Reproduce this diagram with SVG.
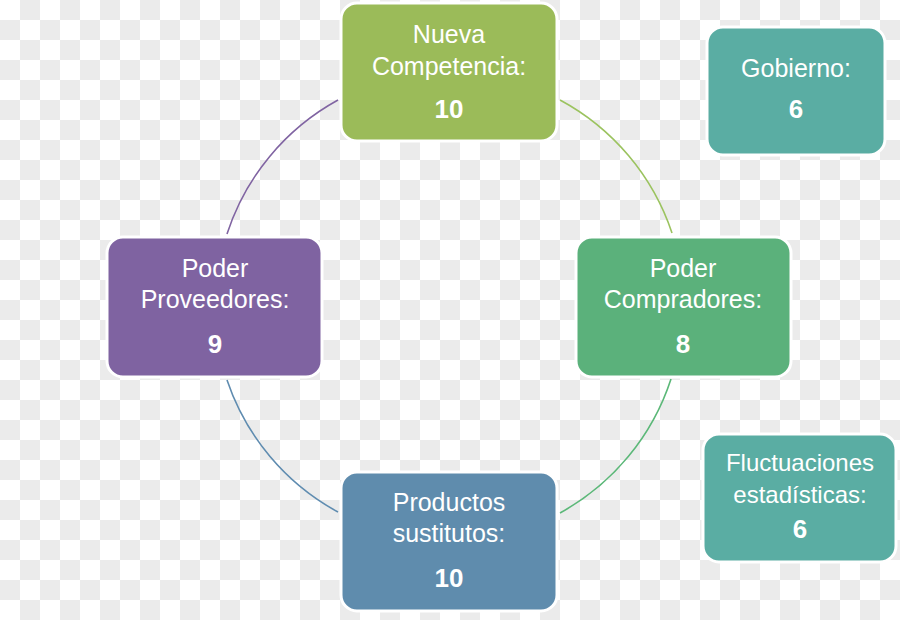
<svg xmlns="http://www.w3.org/2000/svg" width="900" height="620" viewBox="0 0 900 620">
<defs>
<pattern id="checker" x="0" y="0" width="40" height="40" patternUnits="userSpaceOnUse">
<rect width="40" height="40" fill="#ffffff"/>
<rect x="20" y="0" width="20" height="20" fill="#ebebeb"/>
<rect x="0" y="20" width="20" height="20" fill="#ebebeb"/>
</pattern>
<style>
.box{stroke:#ffffff;stroke-width:3}
.lbl{font-family:"Liberation Sans",Arial,sans-serif;font-size:25px;fill:#ffffff;text-anchor:middle}
.num{font-family:"Liberation Sans",Arial,sans-serif;font-size:26px;font-weight:bold;fill:#ffffff;text-anchor:middle}
.arc{fill:none;stroke-width:1.6}
</style>
</defs>
<rect width="900" height="620" fill="url(#checker)"/>
<g id="connectors">
<path class="arc" stroke="#9bc35f" d="M560,100 A236,236 0 0 1 672,233"/>
<path class="arc" stroke="#5bb878" d="M671,379 A236,236 0 0 1 560,513"/>
<path class="arc" stroke="#5f8cb0" d="M338,512 A236,236 0 0 1 227,380"/>
<path class="arc" stroke="#8064a2" d="M227,234 A236,236 0 0 1 338,100"/>
</g>
<g id="nueva-competencia">
<rect class="box" x="341" y="3" width="216" height="138" rx="16" fill="#9bbb59"/>
<text class="lbl" x="449" y="43">Nueva</text>
<text class="lbl" x="449" y="75">Competencia:</text>
<text class="num" x="449" y="118">10</text>
</g>
<g id="gobierno">
<rect class="box" x="707" y="27" width="178" height="128" rx="16" fill="#5aada3"/>
<text class="lbl" x="796" y="77">Gobierno:</text>
<text class="num" x="796" y="118">6</text>
</g>
<g id="poder-compradores">
<rect class="box" x="576" y="237" width="215" height="140" rx="16" fill="#5bb17b"/>
<text class="lbl" x="683" y="277">Poder</text>
<text class="lbl" x="683" y="308">Compradores:</text>
<text class="num" x="683" y="353">8</text>
</g>
<g id="poder-proveedores">
<rect class="box" x="107" y="237" width="215" height="140" rx="16" fill="#7f63a1"/>
<text class="lbl" x="215" y="277">Poder</text>
<text class="lbl" x="215" y="308">Proveedores:</text>
<text class="num" x="215" y="353">9</text>
</g>
<g id="productos-sustitutos">
<rect class="box" x="341" y="472" width="216" height="139" rx="16" fill="#5f8cad"/>
<text class="lbl" x="449" y="511">Productos</text>
<text class="lbl" x="449" y="542">sustitutos:</text>
<text class="num" x="449" y="587">10</text>
</g>
<g id="fluctuaciones">
<rect class="box" x="703" y="434" width="193" height="128" rx="16" fill="#5aada3"/>
<text class="lbl" x="800" y="471" style="font-size:24px">Fluctuaciones</text>
<text class="lbl" x="800" y="503" style="font-size:24px">estadísticas:</text>
<text class="num" x="800" y="538">6</text>
</g>
</svg>
